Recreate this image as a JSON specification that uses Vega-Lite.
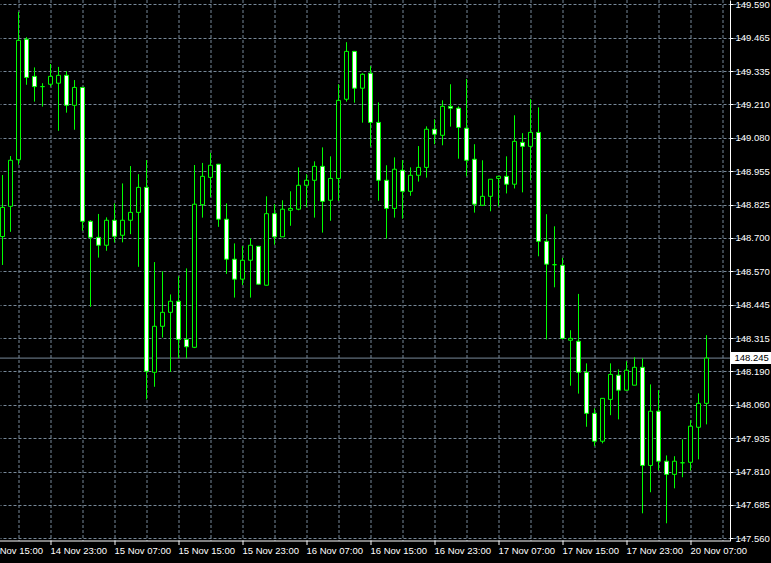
{
  "$schema": "https://vega.github.io/schema/vega-lite/v6.json",
  "width": 730,
  "height": 541,
  "autosize": {"type": "none"},
  "padding": {"left": 0, "top": 0, "right": 41, "bottom": 22},
  "background": "#000000",
  "config": {
    "view": {"stroke": null},
    "scale": {"continuousPadding": 0},
    "axis": {
      "domainColor": "#ffffff",
      "tickColor": "#ffffff",
      "labelColor": "#ffffff",
      "labelFont": "Liberation Sans",
      "labelFontSize": 9.5,
      "gridColor": "#778899",
      "gridDash": [3, 2],
      "gridOpacity": 1,
      "gridWidth": 1,
      "title": null
    }
  },
  "datasets": {
    "candles": [
      {"t":"14 Nov 17:00","i":0,"o":148.707,"h":148.941,"l":148.599,"c":148.818},
      {"t":"14 Nov 18:00","i":1,"o":148.822,"h":149.013,"l":148.725,"c":148.997},
      {"t":"14 Nov 19:00","i":2,"o":148.999,"h":149.561,"l":148.980,"c":149.453},
      {"t":"14 Nov 20:00","i":3,"o":149.457,"h":149.465,"l":149.284,"c":149.312},
      {"t":"14 Nov 21:00","i":4,"o":149.316,"h":149.350,"l":149.220,"c":149.277},
      {"t":"14 Nov 22:00","i":5,"o":149.277,"h":149.290,"l":149.201,"c":149.277},
      {"t":"14 Nov 23:00","i":6,"o":149.286,"h":149.363,"l":149.277,"c":149.316},
      {"t":"15 Nov 00:00","i":7,"o":149.290,"h":149.352,"l":149.109,"c":149.320},
      {"t":"15 Nov 01:00","i":8,"o":149.320,"h":149.336,"l":149.178,"c":149.206},
      {"t":"15 Nov 02:00","i":9,"o":149.206,"h":149.302,"l":149.113,"c":149.274},
      {"t":"15 Nov 03:00","i":10,"o":149.274,"h":149.274,"l":148.729,"c":148.765},
      {"t":"15 Nov 04:00","i":11,"o":148.765,"h":148.769,"l":148.440,"c":148.704},
      {"t":"15 Nov 05:00","i":12,"o":148.704,"h":148.793,"l":148.627,"c":148.674},
      {"t":"15 Nov 06:00","i":13,"o":148.674,"h":148.780,"l":148.653,"c":148.769},
      {"t":"15 Nov 07:00","i":14,"o":148.769,"h":148.833,"l":148.685,"c":148.708},
      {"t":"15 Nov 08:00","i":15,"o":148.712,"h":148.909,"l":148.685,"c":148.769},
      {"t":"15 Nov 09:00","i":16,"o":148.769,"h":148.975,"l":148.716,"c":148.799},
      {"t":"15 Nov 10:00","i":17,"o":148.799,"h":148.944,"l":148.592,"c":148.894},
      {"t":"15 Nov 11:00","i":18,"o":148.894,"h":148.998,"l":148.088,"c":148.195},
      {"t":"15 Nov 12:00","i":19,"o":148.191,"h":148.610,"l":148.136,"c":148.366},
      {"t":"15 Nov 13:00","i":20,"o":148.366,"h":148.575,"l":148.323,"c":148.419},
      {"t":"15 Nov 14:00","i":21,"o":148.419,"h":148.487,"l":148.193,"c":148.461},
      {"t":"15 Nov 15:00","i":22,"o":148.461,"h":148.556,"l":148.244,"c":148.316},
      {"t":"15 Nov 16:00","i":23,"o":148.316,"h":148.586,"l":148.244,"c":148.288},
      {"t":"15 Nov 17:00","i":24,"o":148.286,"h":148.979,"l":148.283,"c":148.830},
      {"t":"15 Nov 18:00","i":25,"o":148.828,"h":148.987,"l":148.779,"c":148.936},
      {"t":"15 Nov 19:00","i":26,"o":148.932,"h":149.025,"l":148.857,"c":148.978},
      {"t":"15 Nov 20:00","i":27,"o":148.982,"h":148.983,"l":148.744,"c":148.773},
      {"t":"15 Nov 21:00","i":28,"o":148.773,"h":148.833,"l":148.565,"c":148.621},
      {"t":"15 Nov 22:00","i":29,"o":148.621,"h":148.681,"l":148.475,"c":148.545},
      {"t":"15 Nov 23:00","i":30,"o":148.545,"h":148.671,"l":148.523,"c":148.617},
      {"t":"16 Nov 00:00","i":31,"o":148.617,"h":148.700,"l":148.475,"c":148.674},
      {"t":"16 Nov 01:00","i":32,"o":148.670,"h":148.671,"l":148.525,"c":148.526},
      {"t":"16 Nov 02:00","i":33,"o":148.522,"h":148.860,"l":148.521,"c":148.794},
      {"t":"16 Nov 03:00","i":34,"o":148.794,"h":148.830,"l":148.676,"c":148.706},
      {"t":"16 Nov 04:00","i":35,"o":148.706,"h":148.845,"l":148.706,"c":148.811},
      {"t":"16 Nov 05:00","i":36,"o":148.807,"h":148.879,"l":148.748,"c":148.814},
      {"t":"16 Nov 06:00","i":37,"o":148.811,"h":148.970,"l":148.807,"c":148.902},
      {"t":"16 Nov 07:00","i":38,"o":148.902,"h":148.944,"l":148.818,"c":148.921},
      {"t":"16 Nov 08:00","i":39,"o":148.921,"h":148.993,"l":148.779,"c":148.974},
      {"t":"16 Nov 09:00","i":40,"o":148.974,"h":149.046,"l":148.722,"c":148.841},
      {"t":"16 Nov 10:00","i":41,"o":148.845,"h":149.012,"l":148.767,"c":148.928},
      {"t":"16 Nov 11:00","i":42,"o":148.928,"h":149.286,"l":148.843,"c":149.225},
      {"t":"16 Nov 12:00","i":43,"o":149.229,"h":149.446,"l":149.220,"c":149.411},
      {"t":"16 Nov 13:00","i":44,"o":149.411,"h":149.411,"l":149.216,"c":149.271},
      {"t":"16 Nov 14:00","i":45,"o":149.271,"h":149.328,"l":149.140,"c":149.324},
      {"t":"16 Nov 15:00","i":46,"o":149.328,"h":149.355,"l":149.049,"c":149.141},
      {"t":"16 Nov 16:00","i":47,"o":149.141,"h":149.217,"l":148.843,"c":148.921},
      {"t":"16 Nov 17:00","i":48,"o":148.921,"h":148.978,"l":148.699,"c":148.814},
      {"t":"16 Nov 18:00","i":49,"o":148.814,"h":149.008,"l":148.779,"c":148.963},
      {"t":"16 Nov 19:00","i":50,"o":148.959,"h":148.998,"l":148.775,"c":148.879},
      {"t":"16 Nov 20:00","i":51,"o":148.879,"h":148.970,"l":148.862,"c":148.940},
      {"t":"16 Nov 21:00","i":52,"o":148.940,"h":149.051,"l":148.916,"c":148.970},
      {"t":"16 Nov 22:00","i":53,"o":148.970,"h":149.126,"l":148.931,"c":149.115},
      {"t":"16 Nov 23:00","i":54,"o":149.115,"h":149.153,"l":149.058,"c":149.096},
      {"t":"17 Nov 00:00","i":55,"o":149.092,"h":149.225,"l":149.054,"c":149.202},
      {"t":"17 Nov 01:00","i":56,"o":149.202,"h":149.286,"l":149.125,"c":149.195},
      {"t":"17 Nov 02:00","i":57,"o":149.195,"h":149.202,"l":149.003,"c":149.122},
      {"t":"17 Nov 03:00","i":58,"o":149.119,"h":149.306,"l":148.936,"c":148.997},
      {"t":"17 Nov 04:00","i":59,"o":149.001,"h":149.058,"l":148.798,"c":148.830},
      {"t":"17 Nov 05:00","i":60,"o":148.826,"h":148.997,"l":148.826,"c":148.860},
      {"t":"17 Nov 06:00","i":61,"o":148.860,"h":148.925,"l":148.803,"c":148.925},
      {"t":"17 Nov 07:00","i":62,"o":148.928,"h":148.936,"l":148.822,"c":148.936},
      {"t":"17 Nov 08:00","i":63,"o":148.936,"h":149.012,"l":148.871,"c":148.906},
      {"t":"17 Nov 09:00","i":64,"o":148.906,"h":149.168,"l":148.890,"c":149.069},
      {"t":"17 Nov 10:00","i":65,"o":149.065,"h":149.100,"l":148.875,"c":149.050},
      {"t":"17 Nov 11:00","i":66,"o":149.050,"h":149.229,"l":148.921,"c":149.103},
      {"t":"17 Nov 12:00","i":67,"o":149.103,"h":149.198,"l":148.632,"c":148.689},
      {"t":"17 Nov 13:00","i":68,"o":148.689,"h":148.792,"l":148.316,"c":148.602},
      {"t":"17 Nov 14:00","i":69,"o":148.600,"h":148.746,"l":148.514,"c":148.600},
      {"t":"17 Nov 15:00","i":70,"o":148.598,"h":148.626,"l":148.316,"c":148.320},
      {"t":"17 Nov 16:00","i":71,"o":148.313,"h":148.351,"l":148.140,"c":148.320},
      {"t":"17 Nov 17:00","i":72,"o":148.309,"h":148.489,"l":148.110,"c":148.191},
      {"t":"17 Nov 18:00","i":73,"o":148.191,"h":148.225,"l":147.984,"c":148.035},
      {"t":"17 Nov 19:00","i":74,"o":148.035,"h":148.054,"l":147.910,"c":147.929},
      {"t":"17 Nov 20:00","i":75,"o":147.929,"h":148.092,"l":147.921,"c":148.092},
      {"t":"17 Nov 21:00","i":76,"o":148.088,"h":148.225,"l":148.028,"c":148.183},
      {"t":"17 Nov 22:00","i":77,"o":148.180,"h":148.202,"l":148.012,"c":148.123},
      {"t":"17 Nov 23:00","i":78,"o":148.123,"h":148.233,"l":148.123,"c":148.199},
      {"t":"20 Nov 00:00","i":79,"o":148.142,"h":148.248,"l":148.142,"c":148.210},
      {"t":"20 Nov 01:00","i":80,"o":148.210,"h":148.244,"l":147.655,"c":147.837},
      {"t":"20 Nov 02:00","i":81,"o":147.837,"h":148.145,"l":147.735,"c":148.043},
      {"t":"20 Nov 03:00","i":82,"o":148.043,"h":148.123,"l":147.818,"c":147.853},
      {"t":"20 Nov 04:00","i":83,"o":147.853,"h":147.875,"l":147.617,"c":147.803},
      {"t":"20 Nov 05:00","i":84,"o":147.803,"h":147.872,"l":147.750,"c":147.853},
      {"t":"20 Nov 06:00","i":85,"o":147.847,"h":147.936,"l":147.792,"c":147.847},
      {"t":"20 Nov 07:00","i":86,"o":147.849,"h":148.009,"l":147.818,"c":147.986},
      {"t":"20 Nov 08:00","i":87,"o":147.982,"h":148.111,"l":147.860,"c":148.073},
      {"t":"20 Nov 09:00","i":88,"o":148.073,"h":148.332,"l":147.993,"c":148.245}
    ],
    "last": [{"price": 148.245}]
  },
  "layer": [
    {
      "data": {"name": "last"},
      "mark": {"type": "rule", "color": "#778899", "strokeWidth": 1},
      "encoding": {
        "y": {"field": "price", "type": "quantitative"}
      }
    },
    {
      "data": {"name": "candles"},
      "mark": {"type": "rule", "color": "#00ff00", "strokeWidth": 1},
      "encoding": {
        "x": {
          "field": "i", "type": "quantitative",
          "scale": {"domain": [-2.3125, 90.9375], "range": [-16, 730], "nice": false, "zero": false, "padding": 0},
          "axis": {
            "orient": "bottom",
            "translate": 0,
            "tickCount": 200,
            "values": [-2, 2, 6, 10, 14, 18, 22, 26, 30, 34, 38, 42, 46, 50, 54, 58, 62, 66, 70, 74, 78, 82, 86, 90],
            "grid": true,
            "tickSize": 4,
            "tickOpacity": {"condition": {"test": "(datum.value + 2) % 8 == 0", "value": 1}, "value": 0},
            "labelAlign": "left",
            "labelBaseline": "top",
            "labelPadding": 1,
            "labelBound": false,
            "labelFlush": false,
            "labelOverlap": false,
            "labelExpr": "(datum.value + 2) % 8 == 0 ? ['14 Nov 15:00','14 Nov 23:00','15 Nov 07:00','15 Nov 15:00','15 Nov 23:00','16 Nov 07:00','16 Nov 15:00','16 Nov 23:00','17 Nov 07:00','17 Nov 15:00','17 Nov 23:00','20 Nov 07:00'][(datum.value + 2) / 8] : ''",
            "title": null
          }
        },
        "y": {
          "field": "l", "type": "quantitative",
          "scale": {"domain": [147.5497, 149.6063], "nice": false, "zero": false, "padding": 0},
          "axis": {
            "orient": "right",
            "tickCount": 200,
            "values": [149.59, 149.463125, 149.33625, 149.209375, 149.0825, 148.955625, 148.82875, 148.701875, 148.575, 148.448125, 148.32125, 148.194375, 148.0675, 147.940625, 147.81375, 147.686875, 147.56],
            "grid": true,
            "tickSize": 3,
            "labelPadding": 2,
            "labelAlign": "left",
            "labelBaseline": "middle",
            "labelBound": false,
            "labelFlush": false,
            "labelOverlap": false,
            "labelExpr": "['149.590','149.465','149.335','149.210','149.080','148.955','148.825','148.700','148.570','148.445','148.315','148.190','148.060','147.935','147.810','147.685','147.560'][round((149.59 - datum.value) / 0.126875)]",
            "title": null
          }
        },
        "y2": {"field": "h"}
      }
    },
    {
      "data": {"name": "candles"},
      "mark": {"type": "bar", "size": 4, "stroke": "#00ff00", "strokeWidth": 1},
      "encoding": {
        "x": {"field": "i", "type": "quantitative"},
        "y": {"field": "o", "type": "quantitative"},
        "y2": {"field": "c"},
        "fill": {"condition": {"test": "datum.c < datum.o", "value": "#ffffff"}, "value": "#000000"}
      }
    },
    {
      "data": {"name": "last"},
      "mark": {"type": "bar", "orient": "horizontal", "size": 12, "color": "#ffffff"},
      "encoding": {
        "x": {"datum": 91},
        "x2": {"datum": 96.5},
        "y": {"field": "price", "type": "quantitative"}
      }
    },
    {
      "data": {"name": "last"},
      "mark": {"type": "text", "align": "left", "baseline": "middle", "dx": 4, "color": "#000000", "font": "Liberation Sans", "fontSize": 9.5},
      "encoding": {
        "x": {"datum": 91},
        "y": {"field": "price", "type": "quantitative"},
        "text": {"field": "price", "type": "quantitative", "format": ".3f"}
      }
    }
  ]
}
